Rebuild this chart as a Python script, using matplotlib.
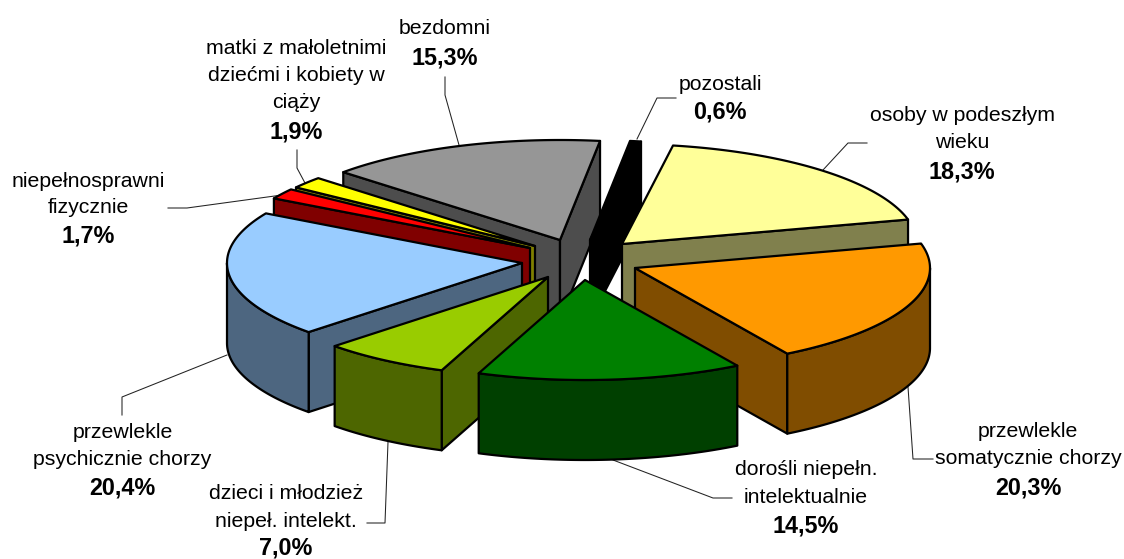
import numpy as np
import matplotlib
matplotlib.use("Agg")
import matplotlib.pyplot as plt
from matplotlib.patches import Polygon

# --- data (clockwise, starting at the black slice) ---
categories = ["pozostali", "osoby w podeszłym\nwieku", "przewlekle\nsomatycznie chorzy",
              "dorośli niepełn.\nintelektualnie", "dzieci i młodzież\nniepeł. intelekt.",
              "przewlekle\npsychicznie chorzy", "niepełnosprawni\nfizycznie",
              "matki z małoletnimi\ndziećmi i kobiety w\nciąży", "bezdomni"]
values = [0.6, 18.3, 20.3, 14.5, 7.0, 20.4, 1.7, 1.9, 15.3]

# --- style / layout ---
top_colors = ["#000000", "#ffff99", "#ff9900", "#008000", "#99cc00", "#99ccff", "#ff0000", "#ffff00", "#969696"]
side_colors = ["#000000", "#80804d", "#804d00", "#004000", "#4d6600", "#4d6680", "#800000", "#808000", "#4d4d4d"]
apexes = [(590, 240), (622, 244), (635, 268), (585, 280), (548, 277), (522, 263), (530, 248), (535, 246), (560, 240)]
draw_order = [8, 0, 1, 2, 7, 6, 5, 4, 3]
RX, RY, DEPTH = 295, 100, 80
START = 7.8
label_x = [720, 962, 1028, 806, 286, 122.5, 88, 296, 444.5]
label_y = [[90, 119], [121, 148, 178], [437, 464, 494], [475, 503, 533], [499, 527, 554.5],
           [438, 465, 495], [187, 213, 243], [54, 81, 108, 138], [34, 64]]
leaders = [[(637, 139), (657, 98), (676, 98)], [(823, 170), (848, 143), (867, 143)],
           [(908, 387), (913, 459), (933, 459)], [(613, 460), (713, 498), (732, 498)],
           [(388, 442), (385, 523), (367, 523)], [(227, 355), (122, 397), (122, 415)],
           [(282, 195), (187, 208), (168, 208)], [(305, 183), (297, 168), (297, 150)],
           [(459, 145), (445, 95), (445, 77)]]

plt.rcParams["font.family"] = ["Liberation Sans", "DejaVu Sans"]
fig = plt.figure(figsize=(11.24, 5.59), dpi=100)
ax = fig.add_axes([0, 0, 1, 1])
ax.set_xlim(0, 1124)
ax.set_ylim(559, 0)
ax.axis("off")

vals = np.array(values, dtype=float)
angles = START + np.concatenate([[0], np.cumsum(vals)]) / vals.sum() * 360


def rim(apex, a0, a1):
    t = np.radians(np.linspace(a0, a1, max(int(abs(a1 - a0) * 2), 2)))
    return np.column_stack([apex[0] + RX * np.sin(t), apex[1] - RY * np.cos(t)])


def poly(points, color, z):
    ax.add_patch(Polygon(points, closed=True, facecolor=color, edgecolor="black",
                         linewidth=1.6, joinstyle="round", zorder=z))


for leader in leaders:
    xs, ys = zip(*leader)
    ax.plot(xs, ys, color="#222222", lw=0.75, zorder=1)

z = 2
for i in draw_order:
    a0, a1, apex = angles[i], angles[i + 1], apexes[i]
    down = np.array([0, DEPTH])
    # only the cut faces turned towards the viewer are drawn
    faces = []
    if np.sin(np.radians(a0)) < 0:
        faces.append(a0)
    if np.sin(np.radians(a1)) > 0:
        faces.append(a1)
    for a in faces:
        edge = rim(apex, a, a)[:1]
        poly([apex, edge[0], edge[0] + down, np.array(apex) + down], side_colors[i], z)
        z += 1
    lo, hi = max(a0, 90), min(a1, 270)
    if hi > lo:
        arc = rim(apex, lo, hi)
        poly(np.vstack([arc, (arc + down)[::-1]]), side_colors[i], z)
        z += 1
    poly(np.vstack([[apex], rim(apex, a0, a1)]), top_colors[i], z)
    z += 1

for name, v, x, ys in zip(categories, values, label_x, label_y):
    for line, y in zip(name.split("\n"), ys):
        ax.text(x, y, line, ha="center", va="baseline", fontsize=15.3, color="black", zorder=100)
    ax.text(x, ys[-1], f"{v:.1f}%".replace(".", ","), ha="center", va="baseline",
            fontsize=16.8, fontweight="bold", color="black", zorder=100)

fig.savefig("out.png", dpi=100)
